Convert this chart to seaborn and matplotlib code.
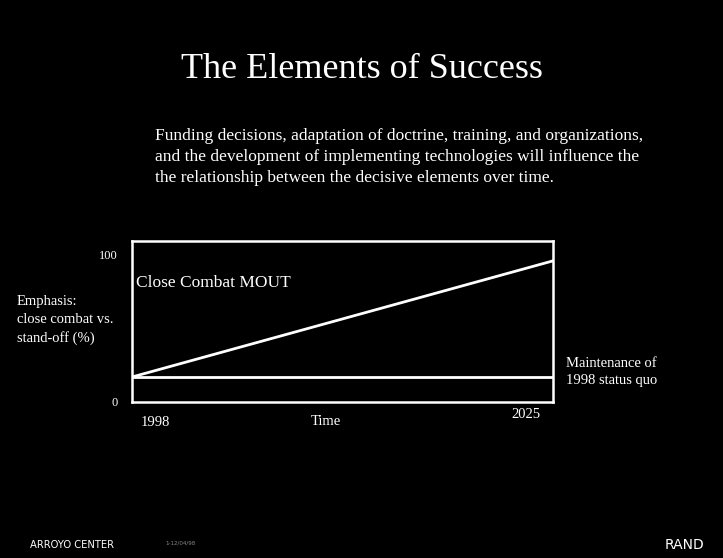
import matplotlib
matplotlib.use("Agg")
import matplotlib.pyplot as plt
import seaborn as sns
import pandas as pd

# data
years = [1998, 2025]
close_combat = [17, 96]
status_quo = [17, 17]
y_ticks = [0, 100]
y_tick_labels = ["0", "100"]

df = pd.DataFrame({
    "Year": years + years,
    "Emphasis": close_combat + status_quo,
    "Series": ["Close Combat MOUT"] * 2 + ["Maintenance of 1998 status quo"] * 2,
})

sns.set_style("dark", {"axes.facecolor": "black", "figure.facecolor": "black"})
plt.rcParams["font.family"] = ["Liberation Serif", "DejaVu Serif"]

fig = plt.figure(figsize=(7.23, 5.58), dpi=100, facecolor="black")
ax = fig.add_axes([0.1826, 0.2796, 0.5823, 0.2885])
ax.set_facecolor("black")

sns.lineplot(data=df, x="Year", y="Emphasis", hue="Series",
             palette=["white", "white"], linewidth=2, legend=False, ax=ax)

ax.set_xlim(1998, 2025)
ax.set_ylim(0, 109.5)
ax.set_yticks(y_ticks)
ax.set_yticklabels(y_tick_labels, color="white", fontsize=9)
ax.tick_params(axis="y", length=0, pad=10)
ax.set_xticks([])
ax.set_xlabel("")
ax.set_ylabel("")
ax.grid(False)
for s in ax.spines.values():
    s.set_visible(True)
    s.set_color("white")
    s.set_linewidth(1.8)

# x labels at the edges
ax.text(0.02, -0.13, "1998", transform=ax.transAxes, color="white",
        fontsize=10.5, ha="left", va="center")
ax.text(0.97, -0.08, "2025", transform=ax.transAxes, color="white",
        fontsize=10.5, ha="right", va="center")
ax.text(0.46, -0.12, "Time", transform=ax.transAxes, color="white",
        fontsize=10.5, ha="center", va="center")

# in-plot labels
ax.text(0.01, 0.74, "Close Combat MOUT", transform=ax.transAxes, color="white",
        fontsize=12.5, ha="left", va="center")
fig.text(566 / 723, 1 - 372 / 558, "Maintenance of\n1998 status quo", color="white",
         fontsize=10.5, ha="left", va="center", linespacing=1.45)
fig.text(17 / 723, 1 - 320 / 558, "Emphasis:\nclose combat vs.\nstand-off (%)",
         color="white", fontsize=10.5, ha="left", va="center", linespacing=1.45)

# slide title and text
fig.text(0.5, 1 - 70 / 558, "The Elements of Success", color="white",
         fontsize=26, ha="center", va="center")
body = ("Funding decisions, adaptation of doctrine, training, and organizations,\n"
        "and the development of implementing technologies will influence the\n"
        "the relationship between the decisive elements over time.")
fig.text(155 / 723, 1 - 157 / 558, body, color="white", fontsize=12.5,
         ha="left", va="center", linespacing=1.45)

# footer
fig.text(30 / 723, 1 - 545 / 558, "ARROYO CENTER", color="white", fontsize=7.2,
         family="DejaVu Sans", ha="left", va="center")
fig.text(165 / 723, 1 - 543 / 558, "1-12/04/98", color="#888888", fontsize=4,
         family="DejaVu Sans", ha="left", va="center")
fig.text(685 / 723, 1 - 545 / 558, "RAND", color="white", fontsize=10,
         family="DejaVu Sans", ha="center", va="center")

fig.savefig("out.png", dpi=100, facecolor="black")
